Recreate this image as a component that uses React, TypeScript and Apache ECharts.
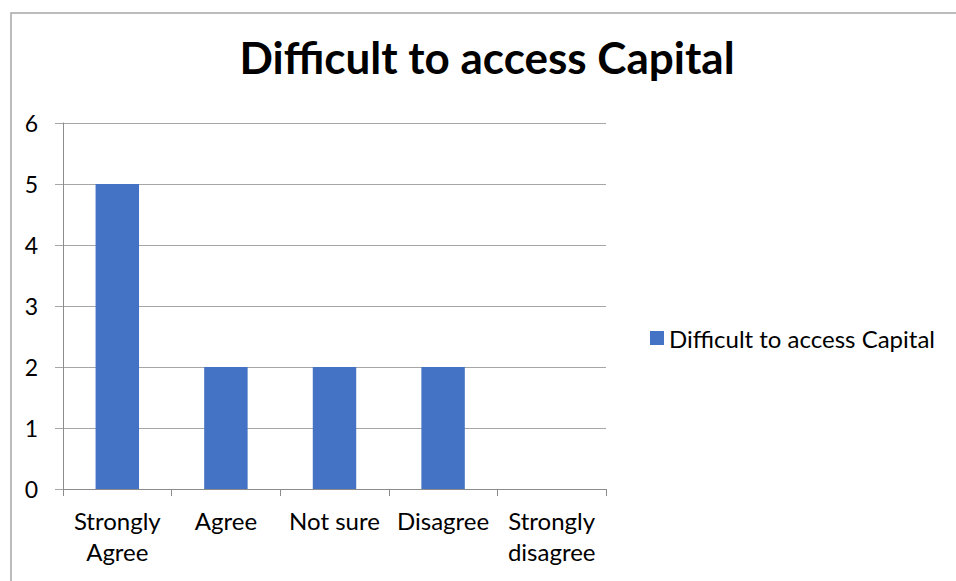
import React, { useEffect, useRef } from "react";
import * as echarts from "echarts";

const titleText = "Difficult to access Capital";
const seriesName = "Difficult to access Capital";
const categories = ["Strongly\nAgree", "Agree", "Not sure", "Disagree", "Strongly\ndisagree"];
const values = [5, 2, 2, 2, 0];
const yTicks = { min: 0, max: 6, interval: 1 };

export default function App() {
  const ref = useRef<HTMLDivElement>(null);
  useEffect(() => {
    if (!ref.current) return;
    const chart = echarts.init(ref.current, null, { renderer: "svg" });
    const font = "Lato, 'Open Sans', sans-serif";
    chart.setOption({
      animation: false,
      backgroundColor: "#ffffff",
      textStyle: { fontFamily: font },
      title: {
        text: titleText,
        left: 487,
        textAlign: "center",
        top: 35,
        padding: 0,
        textStyle: { fontFamily: font, fontWeight: "bold", fontSize: 44, color: "#000000" },
      },
      legend: {
        orient: "vertical",
        left: 650,
        top: 326,
        padding: 0,
        itemWidth: 14,
        itemHeight: 14,
        itemGap: 8,
        icon: "rect",
        textStyle: { fontFamily: font, fontSize: 24, color: "#000000" },
        data: [seriesName],
      },
      grid: { left: 63, right: 350, top: 123, bottom: 92, containLabel: false },
      xAxis: {
        type: "category",
        data: categories,
        axisLine: { show: true, lineStyle: { color: "#8c8c8c", width: 1 } },
        axisTick: { show: true, length: 7, lineStyle: { color: "#8c8c8c" } },
        axisLabel: { color: "#000000", fontSize: 24, fontFamily: font, margin: 16, lineHeight: 31, interval: 0 },
        splitLine: { show: false },
      },
      yAxis: {
        type: "value",
        min: yTicks.min,
        max: yTicks.max,
        interval: yTicks.interval,
        axisLine: { show: true, lineStyle: { color: "#8c8c8c", width: 1 } },
        axisTick: { show: true, length: 8, lineStyle: { color: "#a6a6a6" } },
        axisLabel: { color: "#000000", fontSize: 23, fontFamily: font, margin: 25 },
        splitLine: { show: true, lineStyle: { color: "#a6a6a6", width: 1 } },
      },
      series: [
        {
          name: seriesName,
          type: "bar",
          data: values,
          barWidth: "40%",
          itemStyle: { color: "#4472C4" },
        },
      ],
      graphic: [
        {
          type: "rect",
          left: 8.5,
          top: 10.5,
          shape: { x: 0, y: 0, width: 1200, height: 800 },
          style: { fill: "none", stroke: "#a6a6a6", lineWidth: 1.5 },
          silent: true,
        },
      ],
    });
    return () => chart.dispose();
  }, []);
  return (
    <div
      ref={ref}
      style={{ position: "absolute", left: 0, top: 0, width: 956, height: 581 }}
    />
  );
}
